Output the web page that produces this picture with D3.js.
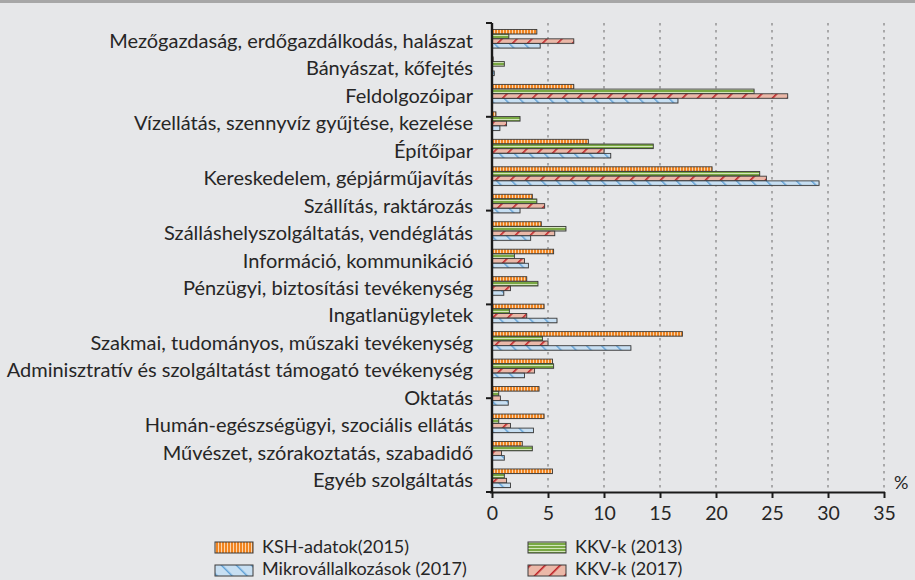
<!DOCTYPE html>
<html>
<head>
<meta charset="utf-8">
<script src="https://cdn.jsdelivr.net/npm/d3@7"></script>
<style>
html,body{margin:0;padding:0;background:#e6e7e9;}
svg{display:block;font-family:Lato,"Open Sans",sans-serif;}
</style>
</head>
<body>
<svg id="chart" width="915" height="580"></svg>
<script>
const categories = [
  "Mezőgazdaság, erdőgazdálkodás, halászat",
  "Bányászat, kőfejtés",
  "Feldolgozóipar",
  "Vízellátás, szennyvíz gyűjtése, kezelése",
  "Építőipar",
  "Kereskedelem, gépjárműjavítás",
  "Szállítás, raktározás",
  "Szálláshelyszolgáltatás, vendéglátás",
  "Információ, kommunikáció",
  "Pénzügyi, biztosítási tevékenység",
  "Ingatlanügyletek",
  "Szakmai, tudományos, műszaki tevékenység",
  "Adminisztratív és szolgáltatást támogató tevékenység",
  "Oktatás",
  "Humán-egészségügyi, szociális ellátás",
  "Művészet, szórakoztatás, szabadidő",
  "Egyéb szolgáltatás"
];
const seriesNames = ["KSH-adatok(2015)", "KKV-k (2013)", "KKV-k (2017)", "Mikrovállalkozások (2017)"];
const ksh2015   = [4.0, 0.1, 7.3, 0.35, 8.6, 19.65, 3.6, 4.4, 5.5, 3.1, 4.65, 17.0, 5.4, 4.2, 4.65, 2.7, 5.4];
const kkv2013   = [1.5, 1.1, 23.4, 2.5, 14.4, 23.9, 4.0, 6.6, 2.0, 4.1, 1.55, 4.5, 5.5, 0.6, 0.6, 3.6, 1.1];
const kkv2017   = [7.3, 0.05, 26.4, 1.3, 10.0, 24.5, 4.7, 5.6, 2.9, 1.65, 3.1, 5.0, 3.8, 0.75, 1.65, 0.85, 1.3];
const mikro2017 = [4.3, 0.2, 16.6, 0.7, 10.6, 29.2, 2.5, 3.45, 3.25, 1.05, 5.8, 12.4, 2.9, 1.45, 3.7, 1.1, 1.65];
const xTicks = [0, 5, 10, 15, 20, 25, 30, 35];

const seriesValues = [ksh2015, kkv2013, kkv2017, mikro2017];
const patternIds = ["pOrange", "pGreen", "pRed", "pBlue"];

const svg = d3.select("#chart");

// background + top strip
svg.append("rect").attr("x",0).attr("y",0).attr("width",915).attr("height",580).attr("fill","#e6e7e9");
svg.append("rect").attr("x",0).attr("y",0).attr("width",915).attr("height",3).attr("fill","#a7a7a7");

// patterns
const defs = svg.append("defs");
let p = defs.append("pattern").attr("id","pOrange").attr("patternUnits","userSpaceOnUse").attr("width",3).attr("height",4);
p.append("rect").attr("width",3).attr("height",4).attr("fill","#f08420");
p.append("rect").attr("x",2).attr("width",1).attr("height",4).attr("fill","#fbd5ad");

p = defs.append("pattern").attr("id","pGreen").attr("patternUnits","userSpaceOnUse").attr("width",4).attr("height",3);
p.append("rect").attr("width",4).attr("height",3).attr("fill","#79a843");
p.append("rect").attr("y",2).attr("width",4).attr("height",1).attr("fill","#d3e5bb");

p = defs.append("pattern").attr("id","pRed").attr("patternUnits","userSpaceOnUse").attr("width",10.6).attr("height",10.6).attr("patternTransform","rotate(45)");
p.append("rect").attr("width",10.6).attr("height",10.6).attr("fill","#ebb8a8");
p.append("rect").attr("x",0).attr("width",1.6).attr("height",10.6).attr("fill","#c0262a");

p = defs.append("pattern").attr("id","pBlue").attr("patternUnits","userSpaceOnUse").attr("width",10.6).attr("height",10.6).attr("patternTransform","rotate(-45)");
p.append("rect").attr("width",10.6).attr("height",10.6).attr("fill","#c7dff2");
p.append("rect").attr("x",0).attr("width",1.4).attr("height",10.6).attr("fill","#5d9fd6");

// scales
const x = d3.scaleLinear().domain([0, 35]).range([492, 884]);
const y = d3.scaleBand().domain(categories).range([25, 492]).paddingInner(0.31).paddingOuter(0.155);
const ySub = d3.scaleBand().domain(d3.range(4)).range([0, y.bandwidth()]).padding(0.04);
const axisTop = 23, axisBottom = 492;

// grid
svg.append("g").selectAll("line").data(xTicks.filter(d => d > 0)).join("line")
  .attr("x1", d => x(d)).attr("x2", d => x(d))
  .attr("y1", axisTop).attr("y2", axisBottom)
  .attr("stroke", "#8e8e8e").attr("stroke-width", 1.4).attr("stroke-dasharray", "2.5,4.5");

// bars
const g = svg.append("g");
categories.forEach((c, ci) => {
  seriesValues.forEach((vals, si) => {
    const v = vals[ci];
    const w = x(v) - x(0);
    g.append("rect")
      .attr("x", x(0) + 0.5).attr("y", y(c) + ySub(si) + 0.8)
      .attr("width", Math.max(0, w)).attr("height", ySub.bandwidth())
      .attr("fill", "#9a9a9a").attr("opacity", 0.55);
    g.append("rect")
      .attr("x", x(0)).attr("y", y(c) + ySub(si))
      .attr("width", Math.max(0, w)).attr("height", ySub.bandwidth())
      .attr("fill", `url(#${patternIds[si]})`)
      .attr("stroke", "#3b3b3b").attr("stroke-width", 0.9);
  });
});

// x axis
const xAxis = d3.axisBottom(x).tickValues(xTicks).tickSize(6).tickSizeOuter(0).tickPadding(8);
const xg = svg.append("g").attr("transform", `translate(0,${axisBottom})`).call(xAxis);
xg.select(".domain").attr("stroke", "#1a1a1a").attr("stroke-width", 2.2).attr("d", `M${x(0)-2},0.5H${x(35)+1}`);
xg.selectAll(".tick line").attr("stroke", "#1a1a1a").attr("stroke-width", 2);
xg.selectAll(".tick text").attr("fill", "#262626").attr("font-size", 19.5).attr("font-family", "Lato, 'Open Sans', sans-serif");

// y axis line and ticks
svg.append("line").attr("x1", x(0)).attr("x2", x(0)).attr("y1", axisTop).attr("y2", axisBottom + 1)
  .attr("stroke", "#1a1a1a").attr("stroke-width", 2.4);
const yTickScale = d3.scaleLinear().domain([0, 5]).range([axisTop, axisBottom]);
svg.append("g").selectAll("line").data(d3.range(0, 6)).join("line")
  .attr("x1", x(0) - 6).attr("x2", x(0))
  .attr("y1", d => yTickScale(d)).attr("y2", d => yTickScale(d))
  .attr("stroke", "#1a1a1a").attr("stroke-width", 2);

// category labels
svg.append("g").selectAll("text").data(categories).join("text")
  .attr("x", 473).attr("y", d => y(d) + y.bandwidth() / 2 + 1)
  .attr("text-anchor", "end").attr("dominant-baseline", "central")
  .attr("font-size", 20).attr("fill", "#262626")
  .text(d => d);

// percent sign
svg.append("text").attr("x", 894).attr("y", 489).attr("font-size", 18).attr("fill", "#262626").text("%");

// legend
const legendItems = [
  {name: seriesNames[0], pat: patternIds[0], lx: 215, ly: 542, ty: 553},
  {name: seriesNames[1], pat: patternIds[1], lx: 528, ly: 542, ty: 553},
  {name: seriesNames[3], pat: patternIds[3], lx: 215, ly: 565, ty: 575},
  {name: seriesNames[2], pat: patternIds[2], lx: 528, ly: 565, ty: 575}
];
const lg = svg.append("g");
legendItems.forEach(it => {
  lg.append("rect").attr("x", it.lx).attr("y", it.ly).attr("width", 38).attr("height", 11)
    .attr("fill", `url(#${it.pat})`).attr("stroke", "#3b3b3b").attr("stroke-width", 1);
  lg.append("text").attr("x", it.lx + 47).attr("y", it.ty)
    .attr("font-size", 18).attr("fill", "#262626").text(it.name);
});
</script>
</body>
</html>
